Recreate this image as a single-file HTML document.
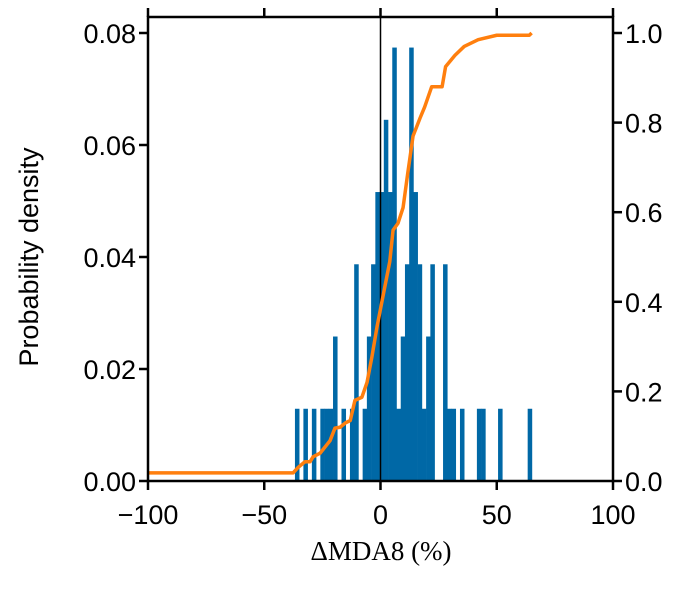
<!DOCTYPE html>
<html><head><meta charset="utf-8"><style>
body{margin:0;background:#fff}
svg text{font-family:"Liberation Sans",sans-serif;font-size:27px;fill:#000}
</style></head><body>
<svg id="c" width="695" height="585" xmlns="http://www.w3.org/2000/svg"></svg>
<script>
const binStart = -36.8;
const binWidth = 1.82;
const densities = [0.0129,0,0.0129,0,0.0129,0,0.0129,0.0129,0.0129,0.0258,0,0.0129,0,0.0129,0.0387,0,0.0129,0.0258,0.0387,0.0516,0.0516,0.0645,0.0516,0.0774,0.0129,0.0258,0.0387,0.0774,0.0516,0.0387,0.0129,0.0258,0.0387,0,0,0.0387,0.0129,0.0129,0,0.0129,0,0,0,0.0129,0.0129,0,0,0,0.0129,0,0,0,0,0,0,0.0129];
const cdfX = [-100,-37.6,-35.5,-32.5,-30.3,-29,-26,-21.7,-19.6,-17.4,-15,-13,-11,-8,-5.8,-3.7,-1.5,0.6,4,5.4,7.5,9.7,11.8,14,17,19,22,26.5,28,32,36,42,50,64,65];
const cdfY = [0.018,0.018,0.03,0.043,0.043,0.054,0.062,0.09,0.118,0.12,0.13,0.135,0.18,0.187,0.22,0.277,0.344,0.40,0.49,0.56,0.575,0.61,0.69,0.77,0.81,0.835,0.88,0.88,0.925,0.95,0.97,0.985,0.995,0.995,1.0];
const xTicks = [-100,-50,0,50,100];
const yTicks = [0,0.02,0.04,0.06,0.08];
const yTickLabels = ["0.00","0.02","0.04","0.06","0.08"];
const rTicks = [0,0.2,0.4,0.6,0.8,1.0];
const rTickLabels = ["0.0","0.2","0.4","0.6","0.8","1.0"];

const L=148,R=613,T=17,B=481,Y0=481,Y8=33;
const xs=v=>L+(v+100)/200*(R-L);
const ys=v=>Y0-v/0.08*(Y0-Y8);
const yr=v=>Y0-v*(Y0-Y8);
const svg=document.getElementById('c');
const NS='http://www.w3.org/2000/svg';
function mk(tag,attrs,parent){const e=document.createElementNS(NS,tag);for(const k in attrs)e.setAttribute(k,attrs[k]);(parent||svg).appendChild(e);return e;}

const bars=mk('g',{});


densities.forEach((d,i)=>{if(d<=0)return;
 const x0=xs(binStart+i*binWidth),x1=xs(binStart+(i+1)*binWidth);
 const r=mk('rect',{x:x0,y:ys(d),width:x1-x0+0.3,height:Y0-ys(d),fill:'#0068a6'},bars);
 
 
});
const zl=mk('line',{x1:xs(0),x2:xs(0),y1:T,y2:B,stroke:'#000','stroke-width':1.5});


const pts=cdfX.map((x,i)=>xs(x)+','+yr(cdfY[i])).join(' ');
const cl=mk('polyline',{points:pts,fill:'none',stroke:'#ff7f0e','stroke-width':3.5,'stroke-linejoin':'round'});


const fr=mk('rect',{x:L,y:T,width:R-L,height:B-T,fill:'none',stroke:'#000','stroke-width':2.5});


xTicks.forEach(v=>{const x=xs(v);
 mk('line',{x1:x,x2:x,y1:B,y2:B+9,stroke:'#000','stroke-width':2.5});
 mk('line',{x1:x,x2:x,y1:T,y2:T-9,stroke:'#000','stroke-width':2.5});
 const t=mk('text',{x:x,y:B+43,'text-anchor':'middle'});t.textContent=(v<0?'\u2212'+(-v):v);
 
 
});
yTicks.forEach((v,i)=>{const y=ys(v);
 mk('line',{x1:L,x2:L-9,y1:y,y2:y,stroke:'#000','stroke-width':2.5});
 const t=mk('text',{x:L-12,y:y+10,'text-anchor':'end'});t.textContent=yTickLabels[i];
 
 
});
rTicks.forEach((v,i)=>{const y=yr(v);
 mk('line',{x1:R,x2:R+9,y1:y,y2:y,stroke:'#000','stroke-width':2.5});
 const t=mk('text',{x:R+12,y:y+10,'text-anchor':'start'});t.textContent=rTickLabels[i];
 
 
});
const xt=mk('text',{x:381,y:560,'text-anchor':'middle',style:'font-family:"Liberation Serif",serif;font-size:27px'});xt.textContent='\u0394MDA8 (%)';


const yt=mk('text',{x:0,y:0,'text-anchor':'middle',transform:'translate(38,257) rotate(-90)'});yt.textContent='Probability density';


</script>
</body></html>
